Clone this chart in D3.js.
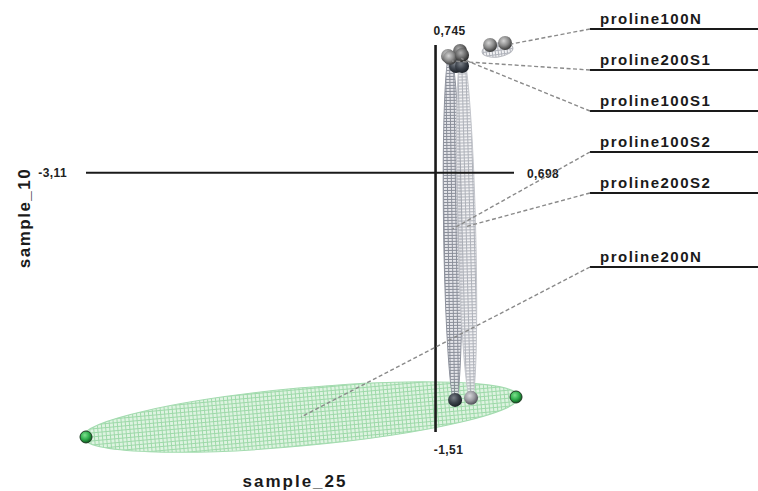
<!DOCTYPE html>
<html><head><meta charset="utf-8">
<script src="https://cdn.jsdelivr.net/npm/d3@7"></script>
<style>
html,body{margin:0;padding:0;background:#fff;}
svg{display:block;font-family:"Liberation Sans",Arial,sans-serif;}
</style></head>
<body>
<svg id="chart" width="758" height="491"></svg>
<script>
// ---- data ----
const xAxisName = "sample_25";
const yAxisName = "sample_10";
const xDomain = [-3.11, 0.698];
const yDomain = [-1.51, 0.745];
const xTickLabels = ["-3,11", "0,698"];
const yTickLabels = ["-1,51", "0,745"];
const groups = ["proline100N", "proline200S1", "proline100S1", "proline100S2", "proline200S2", "proline200N"];
// two replicate scores per group (sample_25, sample_10)
const scoreX = [
  [0.485, 0.618],
  [0.111, 0.182],
  [0.218, 0.236],
  [0.129, 0.174],
  [0.236, 0.316],
  [-3.11, 0.716]
];
const scoreY = [
  [0.745, 0.757],
  [0.681, 0.623],
  [0.710, 0.623],
  [0.670, -1.323],
  [0.687, -1.311],
  [-1.539, -1.306]
];

// ---- layout / style ----
const W = 758, H = 491;
const xRange = [86, 514], yRange = [432, 45];
const labelLineY = [29, 70, 111, 152, 193, 267];
const ellipseHalfWidth = [7, 6, 6, 9, 9, 29];
const ellipsePad = [8, 4, 4, 4, 4, 3];
const ellipseShiftY = [6, 0, 0, 0, 0, 0];
const sphereStyle = [
  ["light","light"],["light","dark"],["mid","dark"],["light","dark"],["mid","mid2"],["green","green"]
];

const svg = d3.select("#chart");
const x = d3.scaleLinear().domain(xDomain).range(xRange);
const y = d3.scaleLinear().domain(yDomain).range(yRange);

const defs = svg.append("defs");
// patterns
const gp = defs.append("pattern").attr("id","gridGreen").attr("patternUnits","userSpaceOnUse").attr("width",4).attr("height",4);
gp.append("rect").attr("width",4).attr("height",4).attr("fill","#dcf2df");
gp.append("path").attr("d","M0,0.5H4M0.5,0V4").attr("stroke","#98d7a4").attr("stroke-width",1);
const gg = defs.append("pattern").attr("id","gridGray").attr("patternUnits","userSpaceOnUse").attr("width",3).attr("height",4);
gg.append("rect").attr("width",3).attr("height",4).attr("fill","#eeeef1");
gg.append("path").attr("d","M0,0.5H3M0.5,0V4").attr("stroke","#a0a4ad").attr("stroke-width",1);
const gd = defs.append("pattern").attr("id","gridDark").attr("patternUnits","userSpaceOnUse").attr("width",3).attr("height",4);
gd.append("rect").attr("width",3).attr("height",4).attr("fill","#e0e1e6");
gd.append("path").attr("d","M0,0.5H3M0.5,0V4").attr("stroke","#767b88").attr("stroke-width",1);

function grad(id, c0, c1, c2){
  const g = defs.append("radialGradient").attr("id",id).attr("cx","40%").attr("cy","35%").attr("r","65%");
  g.append("stop").attr("offset","0%").attr("stop-color",c0);
  g.append("stop").attr("offset","55%").attr("stop-color",c1);
  g.append("stop").attr("offset","100%").attr("stop-color",c2);
}
grad("light","#d4d4d4","#8a8a8a","#3c3c3c");
grad("mid","#b0b0b0","#6a6a6a","#2a2a2a");
grad("mid2","#d8d8dc","#9a9aa0","#505058");
grad("dark","#7a8088","#3d434c","#1c2128");
grad("green","#7fe08f","#2fae4c","#0f5a20");

const groupFill = ["url(#gridGray)","url(#gridGray)","url(#gridGray)","url(#gridDark)","url(#gridGray)","url(#gridGreen)"];
const groupStroke = ["#b5b7bd","#9a9ea8","#9a9ea8","#8d919c","#c4c6cc","#a3dbaf"];

// ellipses through replicate pairs
const ell = groups.map((g,i)=>{
  const p1=[x(scoreX[i][0]),y(scoreY[i][0])], p2=[x(scoreX[i][1]),y(scoreY[i][1])];
  const cx=(p1[0]+p2[0])/2, cy=(p1[1]+p2[1])/2;
  const len=Math.hypot(p2[0]-p1[0],p2[1]-p1[1]);
  const ang=Math.atan2(p2[1]-p1[1],p2[0]-p1[0])*180/Math.PI;
  return {cx,cy,ey:cy+ellipseShiftY[i],rx:len/2+ellipsePad[i],ry:ellipseHalfWidth[i],ang,i};
});
const order=[5,3,4,0,1,2];
svg.append("g").selectAll("ellipse").data(order.map(k=>ell[k])).join("ellipse")
  .attr("transform",d=>`translate(${d.cx},${d.ey}) rotate(${d.ang})`)
  .attr("rx",d=>d.rx).attr("ry",d=>d.ry)
  .attr("fill",d=>groupFill[d.i]).attr("fill-opacity",d=>d.i===5?0.95:0.85)
  .attr("stroke",d=>groupStroke[d.i]).attr("stroke-width",1);

// axes
const axes = svg.append("g").attr("stroke","#1a1a1a");
axes.append("line").attr("x1",x(xDomain[0])).attr("x2",x(xDomain[1])).attr("y1",y(0)).attr("y2",y(0)).attr("stroke-width",2);
axes.append("line").attr("x1",x(0)).attr("x2",x(0)).attr("y1",y(yDomain[1])).attr("y2",y(yDomain[0])).attr("stroke-width",2.6);

const tl = svg.append("g").attr("font-weight","bold").attr("font-size",12).attr("letter-spacing",0.4).attr("fill","#222");
tl.append("text").attr("x",x(xDomain[0])-19).attr("y",y(0)+4).attr("text-anchor","end").text(xTickLabels[0]);
tl.append("text").attr("x",x(xDomain[1])+13).attr("y",y(0)+5).attr("text-anchor","start").text(xTickLabels[1]);
tl.append("text").attr("x",x(0)+14).attr("y",y(yDomain[1])-10).attr("text-anchor","middle").text(yTickLabels[1]);
tl.append("text").attr("x",x(0)+13).attr("y",y(yDomain[0])+22).attr("text-anchor","middle").text(yTickLabels[0]);

// axis titles
svg.append("text").attr("x",295).attr("y",487).attr("text-anchor","middle")
  .attr("font-weight","bold").attr("font-size",17).attr("letter-spacing",2).attr("fill","#1a1a1a").text(xAxisName);
svg.append("text").attr("transform","translate(30,218) rotate(-90)").attr("text-anchor","middle")
  .attr("font-weight","bold").attr("font-size",17).attr("letter-spacing",1.5).attr("fill","#1a1a1a").text(yAxisName);

// spheres
const pts=[];
groups.forEach((g,i)=>{ [0,1].forEach(j=>pts.push({x:scoreX[i][j],y:scoreY[i][j],s:sphereStyle[i][j],i})); });
svg.append("g").selectAll("circle").data(pts).join("circle")
  .attr("cx",d=>x(d.x)).attr("cy",d=>y(d.y))
  .attr("r",d=>d.s==="green"?6:7)
  .attr("fill",d=>`url(#${d.s})`)
  .attr("stroke",d=>d.s==="green"?"#1d3a22":"none").attr("stroke-width",1);

// labels + leaders
const lab = svg.append("g");
groups.forEach((g,i)=>{
  const ly=labelLineY[i];
  lab.append("line").attr("x1",590).attr("x2",W).attr("y1",ly).attr("y2",ly).attr("stroke","#1a1a1a").attr("stroke-width",2);
  lab.append("line").attr("x1",590).attr("y1",ly).attr("x2",ell[i].cx+(i===0?14:0)).attr("y2",ell[i].cy)
    .attr("stroke","#8a8a8a").attr("stroke-width",1.4).attr("stroke-dasharray","4,2.5");
  lab.append("text").attr("x",600).attr("y",ly-5).attr("font-weight","bold").attr("font-size",15)
    .attr("letter-spacing",1.5).attr("fill","#1a1a1a").text(g);
});
</script>
</body></html>
